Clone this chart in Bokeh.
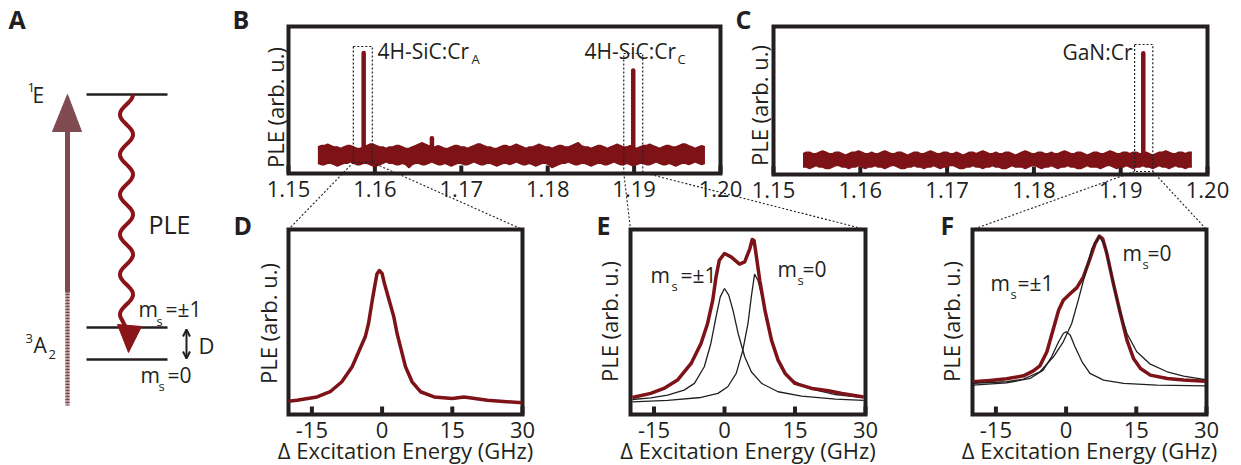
import numpy as np
from bokeh.plotting import figure
from bokeh.models import Range1d, Arrow, OpenHead
from bokeh.embed import file_html
from bokeh.resources import INLINE
from bokeh.core.properties import value

# ---------------------------------------------------------------- data
# Survey PLE scans: excitation energy in eV; noise-band edges in % of full scale
SURVEY_START, SURVEY_END = 1.1534, 1.1982
B_BAND_HI = [18, 19, 19, 20, 19, 18, 18, 17, 18, 19, 19, 18, 17, 17, 18, 19, 20, 20, 19, 18,
             18, 17, 18, 18, 19, 19, 18, 17, 17, 18, 19, 20, 21, 20, 19, 18, 18, 19, 18, 17,
             17, 18, 19, 19, 18, 18, 17, 18, 19, 20, 20, 19, 18, 18, 17, 17, 18, 19, 19, 18,
             19, 20, 19, 18, 17, 18, 18, 19, 20, 19, 18, 18, 17, 18, 19, 19, 18, 18, 19, 20,
             21, 19, 18, 18, 17, 18, 19, 19, 18, 17, 18, 19, 20, 19, 18, 18, 19, 18, 17, 18,
             19, 19, 20, 19, 18, 17, 18, 19, 19, 18, 18, 19, 20, 20, 19, 18, 17, 18, 19, 18]
B_BAND_LO = [7, 6, 6, 7, 7, 6, 5, 6, 7, 7, 8, 7, 6, 6, 7, 7, 6, 5, 5, 6,
             7, 8, 7, 7, 6, 6, 7, 6, 4, 6, 7, 7, 6, 6, 7, 8, 7, 6, 6, 7,
             6, 5, 6, 7, 7, 6, 6, 7, 8, 7, 6, 6, 7, 7, 6, 5, 6, 7, 7, 6,
             7, 8, 7, 6, 6, 7, 6, 5, 6, 7, 7, 6, 4, 5, 6, 7, 7, 8, 7, 6,
             6, 7, 7, 6, 5, 6, 7, 7, 6, 6, 7, 8, 7, 6, 6, 7, 6, 5, 6, 7,
             7, 6, 6, 7, 8, 7, 6, 6, 7, 6, 5, 6, 7, 7, 6, 7, 8, 7, 6, 7]
B_PEAK_E = [1.1587, 1.1666, 1.1899]
B_PEAK_H = [82, 24, 70]

C_BAND_HI = [14, 15, 15, 14, 14, 15, 16, 15, 14, 14, 15, 15, 14, 13, 14, 15, 15, 16, 15, 14,
             14, 15, 14, 14, 15, 16, 15, 14, 14, 15, 15, 14, 13, 14, 15, 15, 14, 14, 15, 16,
             15, 14, 14, 15, 15, 14, 14, 15, 14, 13, 14, 15, 15, 14, 15, 16, 15, 14, 14, 15,
             14, 14, 15, 15, 14, 13, 14, 15, 16, 15, 14, 14, 15, 15, 14, 14, 15, 14, 14, 15,
             16, 15, 14, 14, 15, 15, 14, 13, 14, 15, 15, 14, 14, 15, 16, 15, 14, 14, 15, 15,
             14, 15, 15, 14, 14, 15, 14, 13, 14, 15, 15, 16, 15, 14, 14, 15, 15, 14, 15, 15]
C_BAND_LO = [5, 5, 4, 5, 6, 5, 5, 4, 4, 5, 6, 6, 5, 5, 4, 5, 5, 6, 5, 4,
             5, 5, 6, 5, 5, 4, 5, 6, 6, 5, 4, 4, 5, 5, 6, 5, 5, 4, 5, 5,
             6, 5, 4, 5, 5, 6, 6, 5, 4, 4, 5, 5, 6, 5, 5, 4, 5, 5, 6, 5,
             5, 4, 4, 5, 6, 5, 5, 5, 4, 5, 6, 6, 5, 4, 5, 5, 6, 5, 4, 5,
             5, 6, 5, 5, 4, 4, 5, 6, 5, 5, 5, 4, 5, 6, 6, 5, 4, 5, 5, 6,
             5, 4, 5, 5, 6, 5, 5, 4, 5, 6, 5, 5, 4, 5, 6, 5, 5, 4, 5, 5]
C_PEAK_E = [1.1926]
C_PEAK_H = [82]

SURVEY_TICKS = [1.15, 1.16, 1.17, 1.18, 1.19, 1.20]
SURVEY_LABELS = ["1.15", "1.16", "1.17", "1.18", "1.19", "1.20"]

# High-resolution scans: detuning in GHz, PLE normalised to the frame
D_X = [-20, -18.2, -13.9, -11.1, -8.6, -6.4, -5.0, -3.6, -2.9, -2.1, -1.6, -1.1,
       -0.6, 0.0, 0.5, 1.4, 2.5, 3.2, 4.1, 5.0, 6.4, 8.2, 11.1, 15.0, 17.5, 22.5, 30.0]
D_Y = [0.072, 0.077, 0.095, 0.123, 0.177, 0.258, 0.339, 0.420, 0.492, 0.618, 0.690, 0.760,
       0.778, 0.762, 0.708, 0.627, 0.528, 0.438, 0.348, 0.258, 0.177, 0.123, 0.095, 0.086,
       0.095, 0.077, 0.063]

E_X = [-19.6, -15.7, -12.9, -10.0, -7.1, -5.0, -3.6, -2.5, -1.8, -1.1, 0.0, 1.4, 3.2,
       4.3, 5.4, 5.9, 6.3, 6.8, 7.5, 8.6, 10.0, 11.4, 12.9, 15.0, 18.6, 22.1, 25.0, 29.6]
E_Y = [0.092, 0.114, 0.141, 0.186, 0.276, 0.384, 0.492, 0.618, 0.744, 0.834, 0.870, 0.852,
       0.813, 0.825, 0.897, 0.946, 0.939, 0.852, 0.726, 0.564, 0.402, 0.294, 0.222, 0.168,
       0.141, 0.128, 0.114, 0.095]
E_FIT1_X = [-19.6, -15.7, -12.1, -8.6, -6.4, -4.3, -2.9, -1.8, -0.9, 0.0, 0.9, 1.8, 2.9,
            4.3, 5.7, 7.9, 11.4, 16.4, 23.6, 29.6]
E_FIT1_Y = [0.081, 0.090, 0.105, 0.132, 0.168, 0.258, 0.384, 0.528, 0.636, 0.681, 0.645,
            0.564, 0.438, 0.312, 0.231, 0.168, 0.123, 0.099, 0.083, 0.076]
E_FIT0_X = [-19.6, -12.1, -5.0, -1.4, 0.7, 2.5, 3.9, 5.0, 5.7, 6.4, 7.1, 8.0, 8.9, 10.4,
            12.1, 14.3, 17.9, 23.6, 29.6]
E_FIT0_Y = [0.068, 0.076, 0.092, 0.114, 0.150, 0.222, 0.348, 0.492, 0.636, 0.759, 0.726,
            0.636, 0.510, 0.366, 0.249, 0.186, 0.141, 0.108, 0.092]

F_X = [-19.9, -16.3, -12.7, -9.1, -7.0, -5.6, -4.1, -2.7, -1.6, -0.6, 0.9, 2.3, 3.7, 5.1,
       6.2, 7.1, 7.8, 8.7, 10.1, 11.6, 13.0, 14.4, 15.9, 18.0, 21.6, 25.1, 29.8]
F_Y = [0.177, 0.184, 0.193, 0.209, 0.236, 0.263, 0.339, 0.465, 0.564, 0.618, 0.654, 0.686,
       0.744, 0.843, 0.924, 0.964, 0.951, 0.870, 0.708, 0.546, 0.402, 0.303, 0.249, 0.213,
       0.195, 0.186, 0.180]
F_FIT0_X = [-19.9, -12.7, -9.1, -5.6, -2.7, -0.6, 1.2, 2.6, 4.1, 5.5, 7.1, 8.4, 9.8, 11.2,
            13.0, 15.1, 18.0, 21.6, 25.1, 29.8]
F_FIT0_Y = [0.168, 0.177, 0.191, 0.231, 0.312, 0.393, 0.492, 0.618, 0.762, 0.897, 0.964,
            0.906, 0.744, 0.582, 0.438, 0.339, 0.272, 0.231, 0.207, 0.189]
F_FIT1_X = [-19.9, -12.7, -7.7, -4.9, -3.1, -1.6, -0.6, 0.0, 0.9, 1.9, 3.4, 5.1, 8.0,
            12.3, 19.4, 29.8]
F_FIT1_Y = [0.159, 0.171, 0.195, 0.240, 0.312, 0.393, 0.438, 0.447, 0.429, 0.366, 0.285,
            0.222, 0.186, 0.168, 0.159, 0.155]

DETUNING_TICKS = [-15, 0, 15, 30]
DETUNING_LABELS = ["-15", "0", "15", "30"]

# ---------------------------------------------------------------- style
RED = "#7e1317"
WAVE = "#8a1519"
MAUVE = "#7f4b51"
INK = "#231f20"
FONT = value("Open Sans")
MID = 0.36          # cap-height centre above the baseline, in em
W, H = 1241, 465

p = figure(width=W, height=H, x_range=Range1d(0, W), y_range=Range1d(H, 0),
           output_backend="svg", toolbar_location=None, min_border=0,
           x_axis_location=None, y_axis_location=None)
p.grid.visible = False
p.outline_line_color = None
p.background_fill_color = "white"
p.border_fill_color = "white"


def txt(target, x, y, s, size=21, align="left", style="normal", color=INK):
    """Horizontal text whose baseline sits at y."""
    target.text(x=[x], y=[y - MID * size], text=[s], text_font=FONT,
                text_font_size=f"{size}px", text_align=align, text_baseline="middle",
                text_font_style=style, text_color=color)


def vtxt(x, y, s, size=22):
    """Text rotated to read upwards, centred on (x, y)."""
    p.text(x=[x], y=[y], text=[s], text_font=FONT, text_font_size=f"{size}px",
           text_align="center", text_baseline="middle", angle=np.pi / 2, text_color=INK)


def panel(x0, x1, left, right, top, bottom, ticks, labels, label_base, ymax=1.0):
    """Data sub-coordinates plus an axis helper (x in data units, y in pixels)."""
    data = p.subplot(x_source=Range1d(x0, x1), y_source=Range1d(0, ymax),
                     x_target=Range1d(left, right), y_target=Range1d(bottom, top))
    axis = p.subplot(x_source=Range1d(x0, x1), y_source=Range1d(0, H),
                     x_target=Range1d(left, right), y_target=Range1d(0, H))
    axis.segment(x0=ticks, y0=[bottom] * len(ticks), x1=ticks, y1=[bottom - 8] * len(ticks),
                 line_color=INK, line_width=4)
    axis.text(x=ticks, y=[label_base - MID * 22] * len(ticks), text=labels, text_font=FONT,
              text_font_size="22px", text_align="center", text_baseline="middle",
              text_color=INK)
    data.quad(left=[x0], right=[x1], bottom=[0], top=[ymax], fill_color=None,
              line_color=INK, line_width=4, line_join="miter")
    return data, axis


def lin(v, a0, a1, b0, b1):
    return b0 + (v - a0) * (b1 - b0) / (a1 - a0)


# ---------------------------------------------------------------- panel A (level scheme)
for y in (94, 327, 359):
    p.line([86, 167], [y, y], line_color=INK, line_width=2.5)

p.line([67, 67], [290, 405], line_color=MAUVE, line_width=4.5, line_dash="2 1")
p.line([67, 67], [290, 405], line_color=INK, line_width=1, line_dash="1 2", line_alpha=0.6)
p.line([67, 67], [292, 126], line_color=MAUVE, line_width=5)
p.patch([52, 81, 67], [131, 131, 94], fill_color=MAUVE, line_color=MAUVE)

wy = np.linspace(94, 318, 300)
wx = 126 + 6.5 * np.cos(2 * np.pi * (wy - 94) / 40)
p.line(list(wx) + [128], list(wy) + [332], line_color=WAVE, line_width=4, line_join="round")
p.patch([117, 141, 128], [324, 326, 352], fill_color=WAVE, line_color=WAVE)

p.add_layout(Arrow(x_start=186, y_start=358, x_end=186, y_end=329, line_color=INK, line_width=2,
                   start=OpenHead(size=7, line_width=2, line_color=INK),
                   end=OpenHead(size=7, line_width=2, line_color=INK)))

txt(p, 27, 92, "1", size=13)
txt(p, 32, 102, "E", size=21)
txt(p, 25, 343, "3", size=13)
txt(p, 33, 352, "A", size=21)
txt(p, 48, 359, "2", size=13)
txt(p, 148, 232, "PLE", size=25)
txt(p, 138, 316, "m", size=21)
txt(p, 156, 325, "s", size=13)
txt(p, 165, 316, "=±1", size=21)
txt(p, 140, 382, "m", size=21)
txt(p, 158, 390, "s", size=13)
txt(p, 167, 382, "=0", size=21)
txt(p, 198, 352, "D", size=22)

# ---------------------------------------------------------------- panels B, C (survey scans)
B = dict(left=288, right=720, top=26, bottom=173)
C = dict(left=773, right=1207, top=26, bottom=174)

bd, ba = panel(1.15, 1.20, B["left"], B["right"], B["top"], B["bottom"],
               SURVEY_TICKS, SURVEY_LABELS, 196, ymax=100)
cd, ca = panel(1.15, 1.20, C["left"], C["right"], C["top"], C["bottom"],
               SURVEY_TICKS, SURVEY_LABELS, 197, ymax=100)

bx = np.linspace(SURVEY_START, SURVEY_END, len(B_BAND_HI))
bd.varea(x=bx, y1=B_BAND_LO, y2=B_BAND_HI, fill_color=RED)
bd.line(bx, B_BAND_HI, line_color=RED, line_width=1.5)
bd.line(bx, B_BAND_LO, line_color=RED, line_width=1.5)
bd.segment(x0=B_PEAK_E, y0=[13] * len(B_PEAK_E), x1=B_PEAK_E, y1=B_PEAK_H,
           line_color=RED, line_width=4.5, line_cap="round")
cx = np.linspace(SURVEY_START, SURVEY_END, len(C_BAND_HI))
cd.varea(x=cx, y1=C_BAND_LO, y2=C_BAND_HI, fill_color=RED)
cd.line(cx, C_BAND_HI, line_color=RED, line_width=1.5)
cd.line(cx, C_BAND_LO, line_color=RED, line_width=1.5)
cd.segment(x0=C_PEAK_E, y0=[10] * len(C_PEAK_E), x1=C_PEAK_E, y1=C_PEAK_H,
           line_color=RED, line_width=4.5, line_cap="round")

# dashed selection boxes (x in eV, y in pixels)
boxes = [(ba, 1.1575, 1.1597, 46, 162), (ba, 1.1888, 1.1910, 53, 172),
         (ca, 1.1916, 1.1937, 44, 171)]
for ax, e0, e1, top, bot in boxes:
    ax.quad(left=[e0], right=[e1], top=[top], bottom=[bot], fill_color=None,
            line_color=INK, line_width=1.2, line_dash="2 2")

txt(p, 377, 58, "4H-SiC:Cr", size=21)
txt(p, 471, 63, "A", size=13)
txt(p, 584, 58, "4H-SiC:Cr", size=21)
txt(p, 677, 63, "C", size=13)
txt(p, 1132, 59, "GaN:Cr", size=21, align="right")

vtxt(274, 107, "PLE (arb. u.)")
vtxt(758, 105, "PLE (arb. u.)")

# ---------------------------------------------------------------- panels D, E, F (zoomed scans)
D = dict(left=288, right=522, top=229, bottom=414)
E = dict(left=630, right=865, top=229, bottom=414)
F = dict(left=972, right=1206, top=229, bottom=414)

dd, _ = panel(-20, 30, D["left"], D["right"], D["top"], D["bottom"],
              DETUNING_TICKS, DETUNING_LABELS, 437)
ed, _ = panel(-20, 30, E["left"], E["right"], E["top"], E["bottom"],
              DETUNING_TICKS, DETUNING_LABELS, 437)
fd, _ = panel(-20, 30, F["left"], F["right"], F["top"], F["bottom"],
              DETUNING_TICKS, DETUNING_LABELS, 437)

dd.line(D_X, D_Y, line_color=RED, line_width=3.5, line_join="round")

ed.line(E_FIT1_X, E_FIT1_Y, line_color=INK, line_width=1.3)
ed.line(E_FIT0_X, E_FIT0_Y, line_color=INK, line_width=1.3)
ed.line(E_X, E_Y, line_color=RED, line_width=3.5, line_join="round")

fd.line(F_X, F_Y, line_color=RED, line_width=3.5, line_join="round")
fd.line(F_FIT0_X, F_FIT0_Y, line_color=INK, line_width=1.3)
fd.line(F_FIT1_X, F_FIT1_Y, line_color=INK, line_width=1.3)

for fr in (D, E, F):
    cxm = (fr["left"] + fr["right"]) / 2
    txt(p, cxm, 457, "Δ Excitation Energy (GHz)", size=22, align="center")
vtxt(267, 323, "PLE (arb. u.)")
vtxt(608, 321, "PLE (arb. u.)")
vtxt(950, 321, "PLE (arb. u.)")

# spin-sublevel labels
txt(p, 650, 282, "m", size=21)
txt(p, 671, 290, "s", size=13)
txt(p, 680, 282, "=±1", size=21)
txt(p, 777, 276, "m", size=21)
txt(p, 797, 284, "s", size=13)
txt(p, 802, 276, "=0", size=21)
txt(p, 1122, 260, "m", size=21)
txt(p, 1142, 268, "s", size=13)
txt(p, 1147, 260, "=0", size=21)
txt(p, 990, 290, "m", size=21)
txt(p, 1010, 298, "s", size=13)
txt(p, 1017, 290, "=±1", size=21)

# zoom connectors from the selection boxes to the panels below
links = [(1.1575, 162, B, D["left"]), (1.1597, 162, B, D["right"]),
         (1.1888, 172, B, E["left"]), (1.1910, 172, B, E["right"]),
         (1.1916, 171, C, F["left"]), (1.1937, 171, C, F["right"])]
for e, ybot, fr, xend in links:
    xs = lin(e, 1.15, 1.20, fr["left"], fr["right"])
    p.line([xs, xend], [ybot, 229], line_color=INK, line_width=1.1, line_dash="2 2")

# panel letters
for s, x, y in (("A", 8, 27), ("B", 232, 27), ("C", 735, 27),
                ("D", 233, 233), ("E", 596, 233), ("F", 940, 233)):
    txt(p, x, y, s, size=25, style="bold")

open("out.html", "w").write(file_html(p, INLINE))
